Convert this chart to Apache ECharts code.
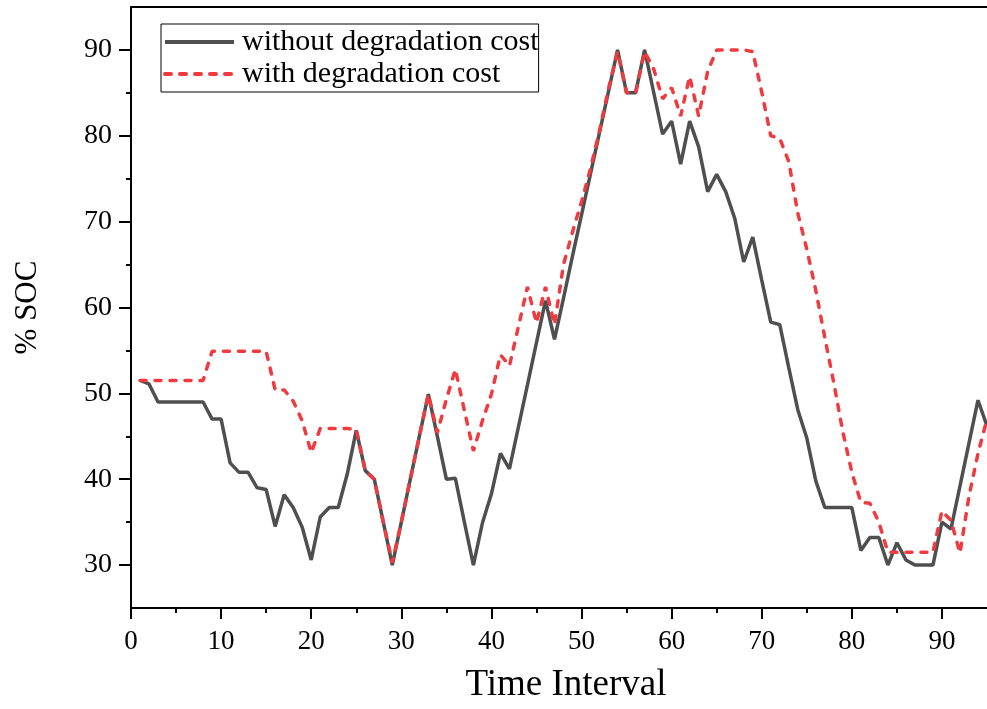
<!DOCTYPE html>
<html><head><meta charset="utf-8">
<script src="https://cdn.jsdelivr.net/npm/echarts@6/dist/echarts.min.js"></script>
<style>html,body{margin:0;padding:0;background:#fff}#c{width:987px;height:709px}</style>
</head><body><div id="c"></div>
<script>
const timeIntervals = [1,2,3,4,5,6,7,8,9,10,11,12,13,14,15,16,17,18,19,20,21,22,23,24,25,26,27,28,29,30,31,32,33,34,35,36,37,38,39,40,41,42,43,44,45,46,47,48,49,50,51,52,53,54,55,56,57,58,59,60,61,62,63,64,65,66,67,68,69,70,71,72,73,74,75,76,77,78,79,80,81,82,83,84,85,86,87,88,89,90,91,92,93,94,95];
const socWithoutDegradation = [51.5,51.1,49.0,49.0,49.0,49.0,49.0,49.0,47.0,47.0,41.9,40.8,40.8,39.0,38.8,34.5,38.2,36.7,34.4,30.6,35.6,36.7,36.7,40.6,45.7,41.0,40.0,35.0,30.0,35.0,40.0,45.0,49.9,45.0,40.0,40.1,35.0,30.0,34.9,38.3,43.0,41.2,46.1,51.0,55.9,60.8,56.3,61.1,66.0,70.8,75.6,80.4,85.2,90.0,85.0,85.0,90.0,85.1,80.2,81.7,76.7,81.7,78.7,73.5,75.5,73.5,70.4,65.3,68.2,63.2,58.3,58.0,53.0,48.1,44.8,39.8,36.7,36.7,36.7,36.7,31.7,33.2,33.2,30.0,32.6,30.6,30.0,30.0,30.0,35.0,34.2,39.2,44.2,49.2,46.2];
const socWithDegradation = [51.5,51.5,51.5,51.5,51.5,51.5,51.5,51.5,54.9,54.9,54.9,54.9,54.9,54.9,54.9,50.4,50.4,49.1,46.8,43.1,45.9,45.9,45.9,45.9,45.8,41.0,40.0,35.0,30.3,35.0,40.0,45.0,49.9,45.4,49.3,52.8,48.0,43.3,46.8,49.9,54.5,53.2,57.8,62.4,58.2,62.4,58.0,65.0,68.8,72.3,76.2,80.6,85.5,89.8,85.0,85.0,89.8,87.8,84.3,85.6,82.3,86.9,82.3,87.5,90.0,90.0,90.0,90.0,89.8,85.1,80.0,79.7,77.0,71.0,66.8,62.0,56.5,51.2,45.5,40.8,37.3,37.2,35.0,31.5,31.5,31.5,31.5,31.5,31.5,36.3,35.2,31.4,38.0,43.0,47.0];
const seriesNames = ['without degradation cost', 'with degradation cost'];
const xMajorTicks = [0,10,20,30,40,50,60,70,80,90];
const xMinorTicks = [5,15,25,35,45,55,65,75,85];
const yMajorTicks = [30,40,50,60,70,80,90];
const yMinorTicks = [35,45,55,65,75,85];

const FONT = '"Liberation Serif", "DejaVu Serif", serif';
const chart = echarts.init(document.getElementById('c'));
const pairs = (vals) => timeIntervals.map((t, i) => [t, vals[i]]);
const axisLine = { show: true, onZero: false, lineStyle: { color: '#000', width: 2 } };

chart.setOption({
  animation: false,
  backgroundColor: '#fff',
  grid: { left: 131, right: 0, top: 7, bottom: 97, containLabel: false },
  legend: {
    orient: 'vertical', left: 161, top: 24,
    itemWidth: 69, itemHeight: 14, itemGap: 2,
    padding: [3, 0, 3, 2],
    borderColor: '#000', borderWidth: 1,
    itemStyle: { opacity: 0 },
    lineStyle: { width: 4 },
    textStyle: { fontFamily: FONT, fontSize: 30, color: '#000', lineHeight: 30, padding: [0, 0, 0, 3] },
    data: seriesNames
  },
  xAxis: [{
    type: 'value', min: 0, max: 95, position: 'bottom',
    name: 'Time Interval', nameLocation: 'middle', nameGap: 59,
    nameTextStyle: { fontFamily: FONT, fontSize: 37, color: '#000', padding: [0, 0, 0, 14] },
    axisLine: axisLine,
    axisTick: { show: true, length: 11, lineStyle: { color: '#000', width: 2 }, customValues: xMajorTicks },
    axisLabel: { fontFamily: FONT, fontSize: 27, color: '#000', margin: 20, customValues: xMajorTicks },
    splitLine: { show: false }
  }, {
    type: 'value', min: 0, max: 95, position: 'bottom',
    axisLine: { show: false },
    axisTick: { show: true, length: 5, lineStyle: { color: '#000', width: 2 }, customValues: xMinorTicks },
    axisLabel: { show: false },
    splitLine: { show: false }
  }, {
    type: 'value', min: 0, max: 95, position: 'top',
    axisLine: axisLine, axisTick: { show: false }, axisLabel: { show: false }, splitLine: { show: false }
  }],
  yAxis: [{
    type: 'value', min: 25, max: 95, position: 'left',
    name: '% SOC', nameLocation: 'middle', nameGap: 88, nameRotate: 90,
    nameTextStyle: { fontFamily: FONT, fontSize: 31, color: '#000' },
    axisLine: axisLine,
    axisTick: { show: true, length: 12, lineStyle: { color: '#000', width: 2 }, customValues: yMajorTicks },
    axisLabel: { fontFamily: FONT, fontSize: 28, color: '#000', margin: 19, customValues: yMajorTicks },
    splitLine: { show: false }
  }, {
    type: 'value', min: 25, max: 95, position: 'left',
    axisLine: { show: false },
    axisTick: { show: true, length: 5, lineStyle: { color: '#000', width: 2 }, customValues: yMinorTicks },
    axisLabel: { show: false },
    splitLine: { show: false }
  }],
  series: [{
    name: seriesNames[0], type: 'line', xAxisIndex: 0, yAxisIndex: 0,
    data: pairs(socWithoutDegradation), symbol: 'none',
    lineStyle: { color: '#4f4f4f', width: 3.5 }, itemStyle: { color: '#4f4f4f' }
  }, {
    name: seriesNames[1], type: 'line', xAxisIndex: 0, yAxisIndex: 0,
    data: pairs(socWithDegradation), symbol: 'none',
    lineStyle: { color: '#ef3b40', width: 3.5, type: [6, 9], cap: 'round' }, itemStyle: { color: '#ef3b40' }
  }]
});
</script>
</body></html>
